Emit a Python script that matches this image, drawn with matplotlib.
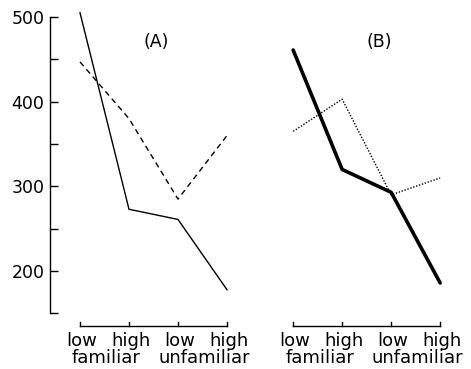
import numpy as np
import matplotlib.pyplot as plt
from matplotlib.transforms import blended_transform_factory

levels = ['low', 'high', 'low', 'high']
groups = ['familiar', 'unfamiliar']

# panel (A)
a_solid = [505, 273, 261, 178]
a_dashed = [447, 380, 285, 360]
# panel (B)
b_solid = [461, 320, 293, 186]
b_dotted = [365, 403, 290, 310]

yticks = [200, 300, 400, 500]
yminor = [150, 250, 350, 450]

fs = 12.5
fs_cat = 13
fig = plt.figure(figsize=(4.71, 3.69), dpi=100)
W, H = 471, 369
ax = fig.add_axes([50 / W, 1 - 326 / H, (460 - 50) / W, (326 - 5) / H])

xa = np.arange(4)
xb = xa + 4.35

ax.plot(xa, a_solid, color='k', lw=1.0)
ax.plot(xa, a_dashed, color='k', lw=1.0, dashes=(4, 3))
ax.plot(xb, b_solid, color='k', lw=2.6, solid_capstyle='round')
ax.plot(xb, b_dotted, color='k', lw=1.0, dashes=(1, 1.2))

ax.set_xlim(-30 / 49, (460 - 80) / 49)
ax.set_ylim(500 - 309 / 0.847, 500 + 12 / 0.847)

for s in ['top', 'right', 'bottom']:
    ax.spines[s].set_visible(False)
ax.spines['left'].set_bounds(150, 500)
ax.spines['left'].set_linewidth(1.0)
ax.set_yticks(yticks)
ax.set_yticks(yminor, minor=True)
ax.tick_params(axis='y', which='both', direction='in', length=6, width=1.0,
               labelsize=fs, pad=4)
ax.set_xticks([])

# category axes under each panel
tr = blended_transform_factory(ax.transData, ax.transAxes)
for xs in [xa, xb]:
    ax.plot([xs[0], xs[-1]], [0, 0], color='k', lw=1.0, transform=tr, clip_on=False)
    for x in xs:
        ax.plot([x, x], [0, 0.012], color='k', lw=1.0, transform=tr, clip_on=False)
    for x, lab in zip(xs, levels):
        ax.text(x + 0.04, -0.018, lab, transform=tr, ha='center', va='top', fontsize=fs_cat)
    ax.text((xs[0] + xs[1]) / 2 + 0.04, -0.072, groups[0], transform=tr,
            ha='center', va='top', fontsize=fs_cat)
    ax.text((xs[2] + xs[3]) / 2 + 0.04, -0.072, groups[1], transform=tr,
            ha='center', va='top', fontsize=fs_cat)

ax.text(1.55, 470, '(A)', ha='center', va='center', fontsize=fs)
ax.text(4.35 + 1.75, 470, '(B)', ha='center', va='center', fontsize=fs)

fig.savefig('out.png', dpi=100)
